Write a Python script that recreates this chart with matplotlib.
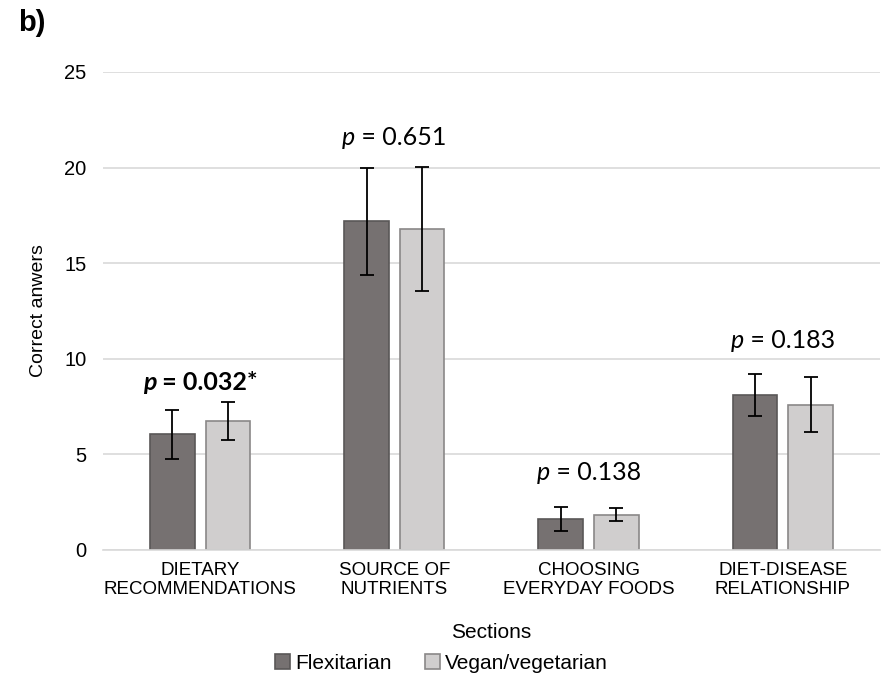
import matplotlib.pyplot as plt
import numpy as np
from matplotlib.offsetbox import AnnotationBbox, HPacker, TextArea

sections = ["DIETARY\nRECOMMENDATIONS", "SOURCE OF\nNUTRIENTS",
            "CHOOSING\nEVERYDAY FOODS", "DIET-DISEASE\nRELATIONSHIP"]
flexitarian = [6.05, 17.2, 1.62, 8.1]
flexitarian_err = [1.28, 2.8, 0.63, 1.1]
vegan = [6.75, 16.8, 1.84, 7.6]
vegan_err = [1.0, 3.25, 0.34, 1.45]
p_values = ["0.032*", "0.651", "0.138", "0.183"]
p_bold = [True, False, False, False]

# where the p-value labels sit (data units)
p_label_y = [8.75, 21.55, 4.05, 10.98]

plt.rcParams["font.family"] = ["Liberation Sans", "DejaVu Sans"]

fig = plt.figure(figsize=(8.83, 6.88), dpi=100)
ax = fig.add_axes([0.1166, 0.2006, 0.8800, 0.6948])

x = np.arange(len(sections))
width = 0.23
offset = 0.143

ax.bar(x - offset, flexitarian, width, color="#767171", edgecolor="#5a5757",
       linewidth=1.2, label="Flexitarian", zorder=2)
ax.bar(x + offset, vegan, width, color="#d0cece", edgecolor="#8a8888",
       linewidth=1.2, label="Vegan/vegetarian", zorder=2)
ax.errorbar(x - offset, flexitarian, yerr=flexitarian_err, fmt="none",
            ecolor="black", elinewidth=1.3, capsize=5, capthick=1.3, zorder=3)
ax.errorbar(x + offset, vegan, yerr=vegan_err, fmt="none",
            ecolor="black", elinewidth=1.3, capsize=5, capthick=1.3, zorder=3)

# p-value annotations: italic "p", rest upright (bold when significant)
for i, (val, bold) in enumerate(zip(p_values, p_bold)):
    weight = "bold" if bold else "normal"
    base = dict(fontsize=18, family=["Lato", "DejaVu Sans"], fontweight=weight)
    parts = HPacker(children=[
        TextArea("p", textprops=dict(base, style="italic")),
        TextArea(" = " + val, textprops=base),
    ], align="baseline", pad=0, sep=0)
    ab = AnnotationBbox(parts, (i, p_label_y[i]), frameon=False,
                        box_alignment=(0.5, 0.5), annotation_clip=False)
    ax.add_artist(ab)

ax.set_ylim(0, 25)
ax.set_xlim(-0.5, len(sections) - 0.5)
ax.set_yticks(range(0, 26, 5))
ax.set_xticks(x)
ax.set_xticklabels(sections, fontsize=13.5, linespacing=1.15)
ax.tick_params(axis="y", length=0, pad=12, labelsize=14.5)
ax.tick_params(axis="x", length=0, pad=9)
ax.yaxis.grid(True, color="#d9d9d9", linewidth=1.2, zorder=0)
ax.set_axisbelow(True)
for side in ("top", "right", "left"):
    ax.spines[side].set_visible(False)
ax.spines["bottom"].set_color("#d9d9d9")
ax.spines["bottom"].set_linewidth(1.2)

ax.set_ylabel("Correct anwers", fontsize=14, labelpad=12)
ax.set_xlabel("Sections", fontsize=15, labelpad=18)

fig.legend(loc="center", bbox_to_anchor=(0.5, 0.036), ncol=2, frameon=False,
           fontsize=15, handlelength=0.7, handleheight=0.7,
           handletextpad=0.25, columnspacing=1.6)

fig.text(0.02, 0.966, "b)", fontsize=21, fontweight="bold", va="center")

fig.savefig("out.png", dpi=100)
